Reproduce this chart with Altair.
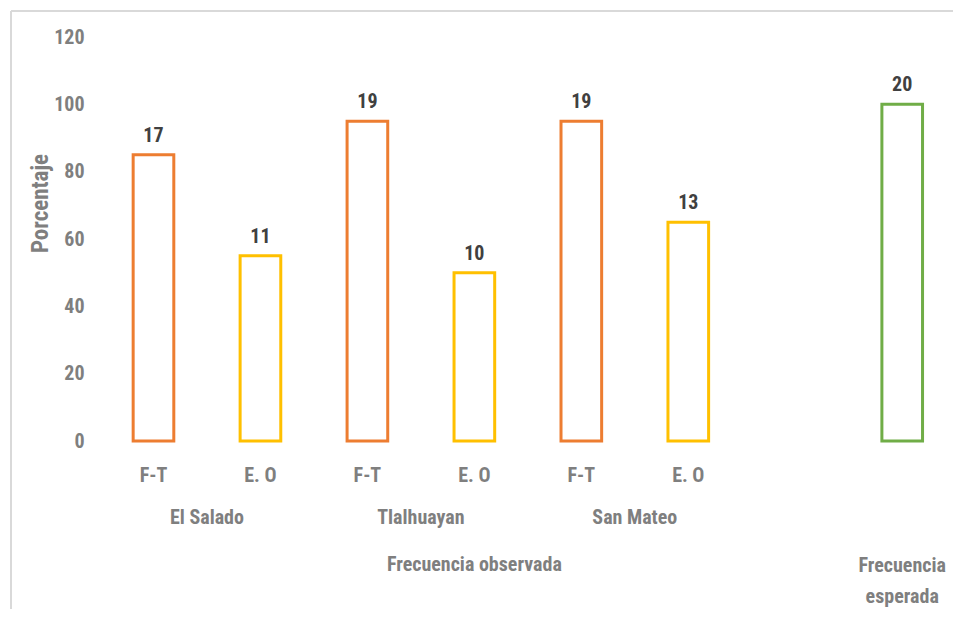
import altair as alt
import pandas as pd

# ---- data ----
sites = ["El Salado", "El Salado", "Tlalhuayan", "Tlalhuayan", "San Mateo", "San Mateo", "Frecuencia esperada"]
groups = ["F-T", "E. O", "F-T", "E. O", "F-T", "E. O", "Esperada"]
slots = [0, 1, 2, 3, 4, 5, 7]
percent = [85, 55, 95, 50, 95, 65, 100]
counts = [17, 11, 19, 10, 19, 13, 20]

cat_labels = ["F-T", "E. O", "F-T", "E. O", "F-T", "E. O"]
cat_slots = [0, 1, 2, 3, 4, 5]
site_labels = ["El Salado", "Tlalhuayan", "San Mateo"]
site_slots = [0.5, 2.5, 4.5]
top_labels = ["Frecuencia observada", "Frecuencia esperada"]
top_slots = [3, 7]

FONT = "Liberation Sans Narrow, Arial Narrow, Roboto Condensed, Liberation Sans, sans-serif"
W, H = 845, 404
FS = 20

bars = pd.DataFrame({"site": sites, "grp": groups, "slot": slots, "pct": percent, "n": counts})
cats = pd.DataFrame({"label": cat_labels, "slot": cat_slots})
sitesdf = pd.DataFrame({"label": site_labels, "slot": site_slots})

xscale = alt.Scale(domain=[-0.5, 7.4], nice=False, zero=False)
yscale = alt.Scale(domain=[0, 120], nice=False)

yaxis = alt.Axis(values=[0, 20, 40, 60, 80, 100, 120], title="Porcentaje",
                 domain=False, ticks=False, grid=False, labelPadding=16,
                 labelFont=FONT, labelFontSize=FS, labelFontWeight="bold",
                 labelColor="#7f7f7f", titleFont=FONT, titleFontSize=23,
                 titleFontWeight="bold", titleColor="#7f7f7f",
                 titleX=-60, titleY=166, titleAngle=-90, titleBaseline="middle",
                 titleAlign="center")

color = alt.Color("grp:N", scale=alt.Scale(domain=["F-T", "E. O", "Esperada"],
                                           range=["#ED7D31", "#FFC000", "#70AD47"]), legend=None)

base = alt.Chart(bars)

bar_layer = base.transform_calculate(
    x0="datum.slot - 0.19", x1="datum.slot + 0.19"
).mark_rect(fill="white", strokeWidth=3).encode(
    x=alt.X("x0:Q", scale=xscale, axis=None),
    x2="x1:Q",
    y=alt.Y("pct:Q", scale=yscale, axis=yaxis),
    y2=alt.datum(0),
    stroke=color,
)

val_layer = base.mark_text(font=FONT, fontSize=FS, fontWeight="bold", color="#404040",
                           baseline="bottom", dy=-9).encode(
    x=alt.X("slot:Q", scale=xscale, axis=None),
    y=alt.Y("pct:Q", scale=yscale, axis=yaxis),
    text="n:Q",
)

cat_layer = alt.Chart(cats).mark_text(font=FONT, fontSize=FS, fontWeight="bold",
                                      color="#7f7f7f", baseline="middle").encode(
    x=alt.X("slot:Q", scale=xscale, axis=None), y=alt.value(439), text="label:N")

site_layer = alt.Chart(sitesdf).mark_text(font=FONT, fontSize=FS, fontWeight="bold",
                                          color="#7f7f7f", baseline="middle").encode(
    x=alt.X("slot:Q", scale=xscale, axis=None), y=alt.value(481), text="label:N")

obs_layer = alt.Chart(pd.DataFrame({"label": [top_labels[0]], "slot": [top_slots[0]]})).mark_text(
    font=FONT, fontSize=FS, fontWeight="bold", color="#7f7f7f", baseline="middle").encode(
    x=alt.X("slot:Q", scale=xscale, axis=None), y=alt.value(528), text="label:N")

esp_layer = alt.Chart(pd.DataFrame({"label": [["Frecuencia", "esperada"]], "slot": [top_slots[1]]})).mark_text(
    font=FONT, fontSize=FS, fontWeight="bold", color="#7f7f7f", baseline="middle", lineHeight=31).encode(
    x=alt.X("slot:Q", scale=xscale, axis=None), y=alt.value(529), text="label")

frame_left = alt.Chart(pd.DataFrame({"a": [0]})).mark_rule(color="#d9d9d9", strokeWidth=2).encode(
    x=alt.value(-89), y=alt.value(-26), y2=alt.value(H + 200))
frame_top = alt.Chart(pd.DataFrame({"a": [0]})).mark_rule(color="#d9d9d9", strokeWidth=2).encode(
    x=alt.value(-89), x2=alt.value(W + 100), y=alt.value(-26))

chart = alt.layer(frame_left, frame_top, bar_layer, val_layer, cat_layer, site_layer, obs_layer, esp_layer).properties(
    width=W, height=H,
    background="white",
    autosize=alt.AutoSizeParams(type="none"),
    padding={"left": 92, "top": 29, "right": 8, "bottom": 168},
).configure_view(stroke=None)

chart.save("out.html", embed_options={"renderer": "svg", "actions": False})
